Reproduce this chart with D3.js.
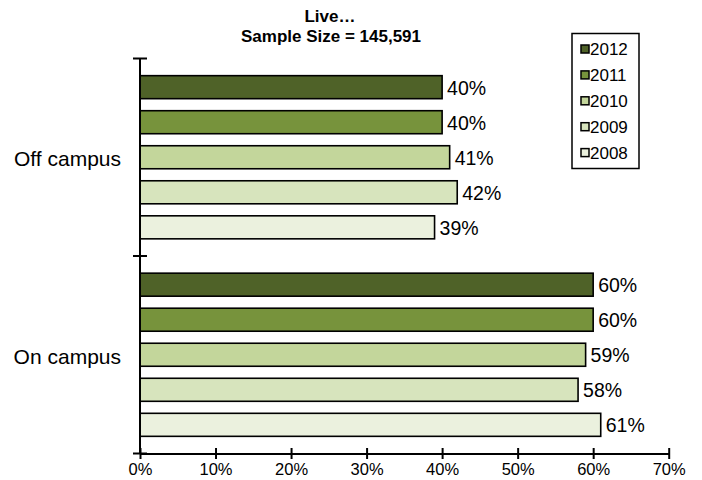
<!DOCTYPE html>
<html>
<head>
<meta charset="utf-8">
<script src="https://cdn.jsdelivr.net/npm/d3@7/dist/d3.min.js"></script>
<style>
  html, body { margin: 0; padding: 0; background: #fff; }
  svg { display: block; font-family: Arial, "Liberation Sans", sans-serif; }
</style>
</head>
<body>
<svg id="chart" width="702" height="480"></svg>
<script>
// Share of respondents by where they live, per survey year
const categories = ["Off campus", "On campus"];
const years = ["2012", "2011", "2010", "2009", "2008"];
const values2012 = [40, 60];
const values2011 = [40, 60];
const values2010 = [41, 59];
const values2009 = [42, 58];
const values2008 = [39, 61];
const tickValues = [0, 10, 20, 30, 40, 50, 60, 70];
const titleText = "Live\u2026";
const subtitleText = "Sample Size = 145,591";

const seriesValues = {
  "2012": values2012, "2011": values2011, "2010": values2010,
  "2009": values2009, "2008": values2008
};
const colors = {
  "2012": "#4F6228", "2011": "#77933C", "2010": "#C3D69B",
  "2009": "#D7E4BD", "2008": "#EBF1DE"
};

const svg = d3.select("#chart");

const x = d3.scaleLinear().domain([0, 70]).range([140, 668.7]);
const y0 = d3.scaleBand().domain(categories).range([58.5, 453.5]).padding(0);
const y1 = d3.scaleBand().domain(years).range([0, y0.bandwidth()])
  .paddingInner(0.343).paddingOuter(0.49);

// Title
svg.append("text").attr("x", 330).attr("y", 21.5).attr("text-anchor", "middle")
  .attr("font-weight", "bold").attr("font-size", 17).text(titleText);
svg.append("text").attr("x", 331).attr("y", 41.5).attr("text-anchor", "middle")
  .attr("font-weight", "bold").attr("font-size", 17).text(subtitleText);

// Bars
const rows = [];
categories.forEach((c, ci) => years.forEach(yr => rows.push({ cat: c, year: yr, value: seriesValues[yr][ci] })));

const g = svg.append("g");
g.selectAll("rect.bar").data(rows).join("rect")
  .attr("class", "bar")
  .attr("x", x(0))
  .attr("y", d => y0(d.cat) + y1(d.year))
  .attr("width", d => x(d.value) - x(0))
  .attr("height", y1.bandwidth())
  .attr("fill", d => colors[d.year])
  .attr("stroke", "#000").attr("stroke-width", 1.6);

g.selectAll("text.val").data(rows).join("text")
  .attr("class", "val")
  .attr("x", d => x(d.value) + 5)
  .attr("y", d => y0(d.cat) + y1(d.year) + y1.bandwidth() / 2 + 0.5)
  .attr("dominant-baseline", "central")
  .attr("font-size", 19.5)
  .text(d => d.value + "%");

// X axis with ticks crossing the line
const xAxis = d3.axisBottom(x).tickValues(tickValues).tickFormat(d => d + "%")
  .tickSizeInner(11).tickSizeOuter(0).tickPadding(5);
const xg = svg.append("g").attr("transform", "translate(0,453.5)").call(xAxis);
xg.select(".domain").attr("stroke", "#000").attr("stroke-width", 2);
xg.selectAll(".tick line").attr("stroke", "#000").attr("stroke-width", 2).attr("y1", -5.5).attr("y2", 5.5);
xg.selectAll(".tick text").attr("font-size", 16.5).attr("fill", "#000")
  .attr("font-family", "Arial, 'Liberation Sans', sans-serif").attr("y", 21.5).attr("dy", null);

// Y axis with category labels and boundary ticks
const yg = svg.append("g");
yg.append("line").attr("x1", x(0)).attr("x2", x(0)).attr("y1", y0.range()[0]).attr("y2", y0.range()[1])
  .attr("stroke", "#000").attr("stroke-width", 2);
const boundaries = categories.map(c => y0(c)).concat([y0(categories[categories.length - 1]) + y0.bandwidth()]);
yg.selectAll("line.tick").data(boundaries).join("line")
  .attr("class", "tick")
  .attr("x1", x(0) - 7).attr("x2", x(0) + 7)
  .attr("y1", d => d).attr("y2", d => d)
  .attr("stroke", "#000").attr("stroke-width", 2);
yg.selectAll("text.cat").data(categories).join("text")
  .attr("class", "cat")
  .attr("x", 121)
  .attr("y", d => y0(d) + y0.bandwidth() / 2 + 1.5)
  .attr("text-anchor", "end")
  .attr("dominant-baseline", "central")
  .attr("font-size", 21)
  .text(d => d);

// Legend
const lg = svg.append("g");
lg.append("rect").attr("x", 572).attr("y", 33.5).attr("width", 67).attr("height", 135)
  .attr("fill", "#fff").attr("stroke", "#000").attr("stroke-width", 1.5);
const entries = lg.selectAll("g.entry").data(years).join("g")
  .attr("class", "entry")
  .attr("transform", (d, i) => `translate(0,${49 + i * 25.9})`);
entries.append("rect").attr("x", 581).attr("y", -4).attr("width", 8).attr("height", 8)
  .attr("fill", d => colors[d]).attr("stroke", "#000").attr("stroke-width", 1.5);
entries.append("text").attr("x", 590).attr("y", 0.5).attr("dominant-baseline", "central")
  .attr("font-size", 17).text(d => d);
</script>
</body>
</html>
